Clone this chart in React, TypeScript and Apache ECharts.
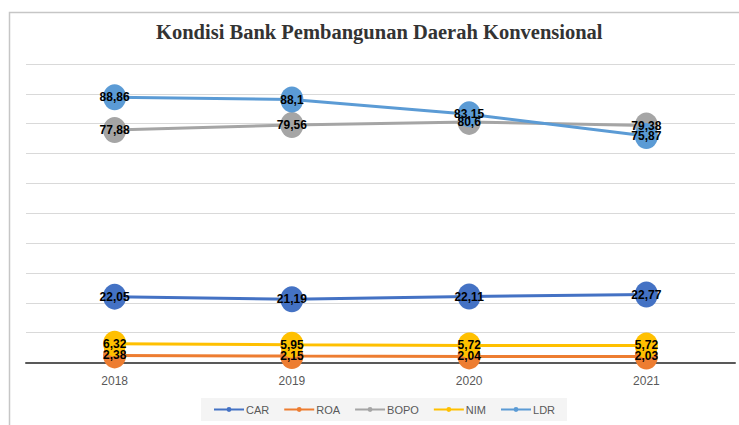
import React, { useEffect, useRef } from "react";
import * as echarts from "echarts";

const years = ["2018", "2019", "2020", "2021"];
const car = [22.05, 21.19, 22.11, 22.77];
const roa = [2.38, 2.15, 2.04, 2.03];
const bopo = [77.88, 79.56, 80.6, 79.38];
const nim = [6.32, 5.95, 5.72, 5.72];
const ldr = [88.86, 88.1, 83.15, 75.87];

const seriesDefs = [
  { name: "CAR", data: car, color: "#4472C4" },
  { name: "ROA", data: roa, color: "#ED7D31" },
  { name: "BOPO", data: bopo, color: "#A5A5A5" },
  { name: "NIM", data: nim, color: "#FFC000" },
  { name: "LDR", data: ldr, color: "#5B9BD5" },
];

const ellipse = "path://M50,0 A50,50 0 1 1 50,100 A50,50 0 1 1 50,0 Z";

export default function App() {
  const ref = useRef<HTMLDivElement>(null);
  useEffect(() => {
    if (!ref.current) return;
    const chart = echarts.init(ref.current, undefined, { renderer: "svg" });
    chart.setOption({
      animation: false,
      backgroundColor: "#ffffff",
      title: {
        text: "Kondisi Bank Pembangunan Daerah Konvensional",
        left: 156,
        top: 21,
        padding: 0,
        textStyle: {
          fontFamily: "Liberation Serif",
          fontWeight: "bold",
          fontSize: 20.5,
          color: "#333333",
        },
      },
      graphic: [
        {
          type: "rect",
          shape: { x: 9.5, y: 12.5, width: 760, height: 440 },
          style: { fill: "none", stroke: "#c6c6c6", lineWidth: 1.5 },
          silent: true,
          z: -1,
        },
      ],
      legend: {
        bottom: 4,
        left: 201,
        backgroundColor: "#f4f4f4",
        padding: [6, 12, 6, 12],
        itemWidth: 30,
        itemHeight: 6,
        itemGap: 14,
        textStyle: { fontFamily: "Liberation Sans", fontSize: 11, color: "#595959", padding: [0, 0, 0, -3] },
        data: seriesDefs.map((s) => s.name),
      },
      grid: { left: 26, right: 4, top: 64, bottom: 62.5, containLabel: false },
      xAxis: {
        type: "category",
        data: years,
        boundaryGap: true,
        axisLine: { show: true, lineStyle: { color: "#595959", width: 2 } },
        axisTick: { show: false },
        axisLabel: { fontFamily: "Liberation Sans", fontSize: 12, color: "#595959", margin: 12 },
      },
      yAxis: {
        type: "value",
        min: 0,
        max: 100,
        interval: 10,
        axisLabel: { show: false },
        axisLine: { show: false },
        axisTick: { show: false },
        splitLine: { lineStyle: { color: "#d9d9d9", width: 1 } },
      },
      series: seriesDefs.map((s) => ({
        name: s.name,
        type: "line",
        data: s.data,
        color: s.color,
        symbol: ellipse,
        symbolSize: [23, 26],
        symbolKeepAspect: false,
        lineStyle: { width: 3, color: s.color },
        itemStyle: { color: s.color },
        label: {
          show: true,
          position: "inside",
          fontFamily: "Liberation Sans",
          fontWeight: "bold",
          fontSize: 12,
          color: "#000000",
          formatter: (p: any) => String(p.value).replace(".", ","),
        },
        labelLayout: { hideOverlap: false },
      })),
    });
    return () => chart.dispose();
  }, []);
  return (
    <div
      ref={ref}
      style={{ position: "fixed", left: 0, top: 0, width: 739, height: 425 }}
    />
  );
}
